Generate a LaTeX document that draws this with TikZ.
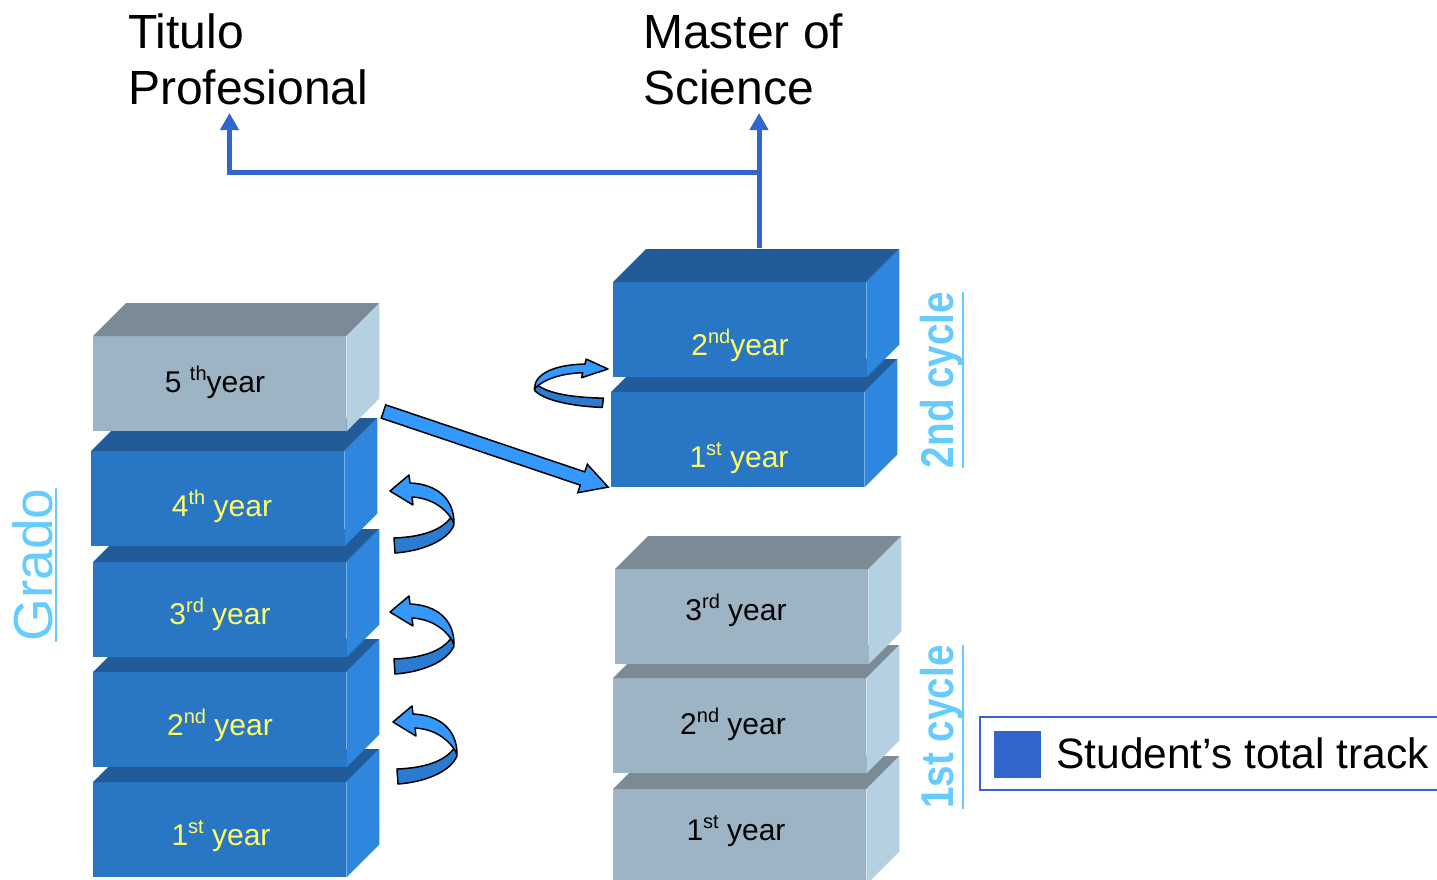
\documentclass[tikz,border=0pt]{standalone}
\usepackage{fontspec}
\setmainfont{Liberation Sans}
\newfontfamily\narrowsans[FakeStretch=0.84]{Liberation Sans}
\usetikzlibrary{calc,arrows.meta}
\definecolor{bfront}{RGB}{41,118,197}
\definecolor{btop}{RGB}{33,91,153}
\definecolor{bside}{RGB}{46,134,222}
\definecolor{gfront}{RGB}{157,180,196}
\definecolor{gtop}{RGB}{122,139,150}
\definecolor{gside}{RGB}{181,208,225}
\definecolor{ylw}{RGB}{255,255,102}
\definecolor{lc}{RGB}{51,102,204}
\definecolor{cyc}{RGB}{102,204,255}
\definecolor{ulight}{RGB}{51,153,255}
\definecolor{udark}{RGB}{43,123,211}
\newcommand\sups[1]{\raisebox{12pt}{\fontsize{20}{20}\selectfont #1}}
\newcommand\yrbox[4]{% name, x, y, scheme
  \node[frontface, fill=#4front] (#1) at (#2,#3) {};
  \fill[#4top] (#1.north west) -- ++(33,-33) -- ($(#1.north east)+(33,-33)$) -- (#1.north east) -- cycle;
  \fill[#4side] (#1.north east) -- ++(33,-33) -- ($(#1.south east)+(33,-33)$) -- (#1.south east) -- cycle;
}
\tikzset{
  frontface/.style={draw=none, inner sep=0pt, anchor=north west, minimum width=253pt, minimum height=95pt},
  lbl/.style={anchor=base, inner sep=0pt, font=\fontsize{30}{36}\selectfont},
  title/.style={anchor=base west, inner sep=0pt, align=left, font=\fontsize{48}{56}\selectfont},
  conn/.style={draw=lc, line width=5pt, -{Triangle[length=17pt,width=18pt]}},
  vlab/.style={rotate=90, anchor=base, inner sep=0pt, text=cyc},
  ul/.style={draw=cyc, line width=2pt},
  uarrow/.style={draw=black, line width=1.5pt, line join=round},
  uturn/.pic={
    \filldraw[uarrow, fill=udark] (62,25) .. controls (52,40) and (30,46) .. (4,47) -- (5,62) .. controls (32,60) and (57,50) .. (64,34) -- cycle;
    \filldraw[uarrow, fill=ulight] (0,0) -- (19,-16) -- (20,-8) .. controls (47,-7) and (64,8) .. (64,32) .. controls (57,18) and (42,7) .. (22,6) -- (23,14) -- cycle;
  }
}
\begin{document}
\begin{tikzpicture}[x=1pt,y=-1pt]
\useasboundingbox (0,0) rectangle (1437,879);
\fill[white] (0,0) rectangle (1437,879);

% titles (base anchor = baseline of last line)
\node[title] (tit) at (128,104) {Titulo\\Profesional};
\node[title] (mos) at (643,104) {Master of\\Science};

% left stack (Grado)
\yrbox{L1}{93}{782}{b}
\yrbox{L2}{93}{672}{b}
\yrbox{L3}{93}{562}{b}
\yrbox{L4}{91}{451}{b}
\yrbox{L5}{93}{336}{g}
\node[lbl, text=ylw] (L1t) at (221,845) {1\sups{st} year};
\node[lbl, text=ylw] (L2t) at (220,735) {2\sups{nd} year};
\node[lbl, text=ylw] (L3t) at (220,624) {3\sups{rd} year};
\node[lbl, text=ylw] (L4t) at (222,516) {4\sups{th} year};
\node[lbl, text=black] (L5t) at (215,392) {5 \sups{th}year};

% right stack, 1st cycle
\yrbox{C1a}{613}{789}{g}
\yrbox{C1b}{613}{678}{g}
\yrbox{C1c}{615}{569}{g}
\node[lbl] (C1at) at (736,840) {1\sups{st} year};
\node[lbl] (C1bt) at (733,734) {2\sups{nd} year};
\node[lbl] (C1ct) at (736,620) {3\sups{rd} year};

% right stack, 2nd cycle
\yrbox{C2a}{611}{392}{b}
\yrbox{C2b}{613}{282}{b}
\node[lbl, text=ylw] (C2at) at (739,467) {1\sups{st} year};
\node[lbl, text=ylw] (C2bt) at (740,355) {2\sups{nd}year};

% connectors to degrees
\coordinate (mstop) at (759,248);
\coordinate (split) at (759,172.5);
\coordinate (tpL) at (229.5,172.5);
\coordinate (tpA) at (229.5,113);
\coordinate (msA) at (759,113);
\draw[conn] (mstop) -- (msA);
\draw[conn, line join=miter] (split) -- (tpL) -- (tpA);

% big straight arrow
\coordinate (bat) at (383.5,411.5);
\begin{scope}[shift={(bat)}, rotate=-18.6]
  \filldraw[uarrow, fill=ulight, line join=miter] (0,-7) -- (210,-7) -- (210,-15) -- (237,0) -- (210,15) -- (210,7) -- (0,7) -- cycle;
\end{scope}

% u-turn arrows
\pic (ua1) at (390,491) {uturn};
\pic (ua2) at (390,612) {uturn};
\pic (ua3) at (393,722) {uturn};
\pic[xscale=-1.15, yscale=0.62] (ua4) at (608,369) {uturn};

% vertical labels
\node[vlab, font=\fontsize{55}{60}\selectfont] (grado) at (52,565) {Grado};
\draw[ul] ([xshift=4pt]grado.base west) -- ([xshift=4pt]grado.base east);
\node[vlab, font=\narrowsans\bfseries\fontsize{46}{50}\selectfont] (cyc2) at (953,380) {2nd cycle};
\draw[ul] ([xshift=10pt]cyc2.base west) -- ([xshift=10pt]cyc2.base east);
\node[vlab, font=\narrowsans\bfseries\fontsize{46}{50}\selectfont] (cyc1) at (953,727) {1st cycle};
\draw[ul] ([xshift=10pt]cyc1.base west) -- ([xshift=10pt]cyc1.base east);

% legend
\draw[lc, line width=2pt] (980,717) rectangle (1450,790);
\node[fill=lc, inner sep=0pt, minimum size=47pt, anchor=north west] (lsq) at (994,731) {};
\node[anchor=base west, inner sep=0pt, font=\fontsize{42.5}{48}\selectfont] (ltx) at (1056,768) {Student’s total track};
\end{tikzpicture}
\end{document}
